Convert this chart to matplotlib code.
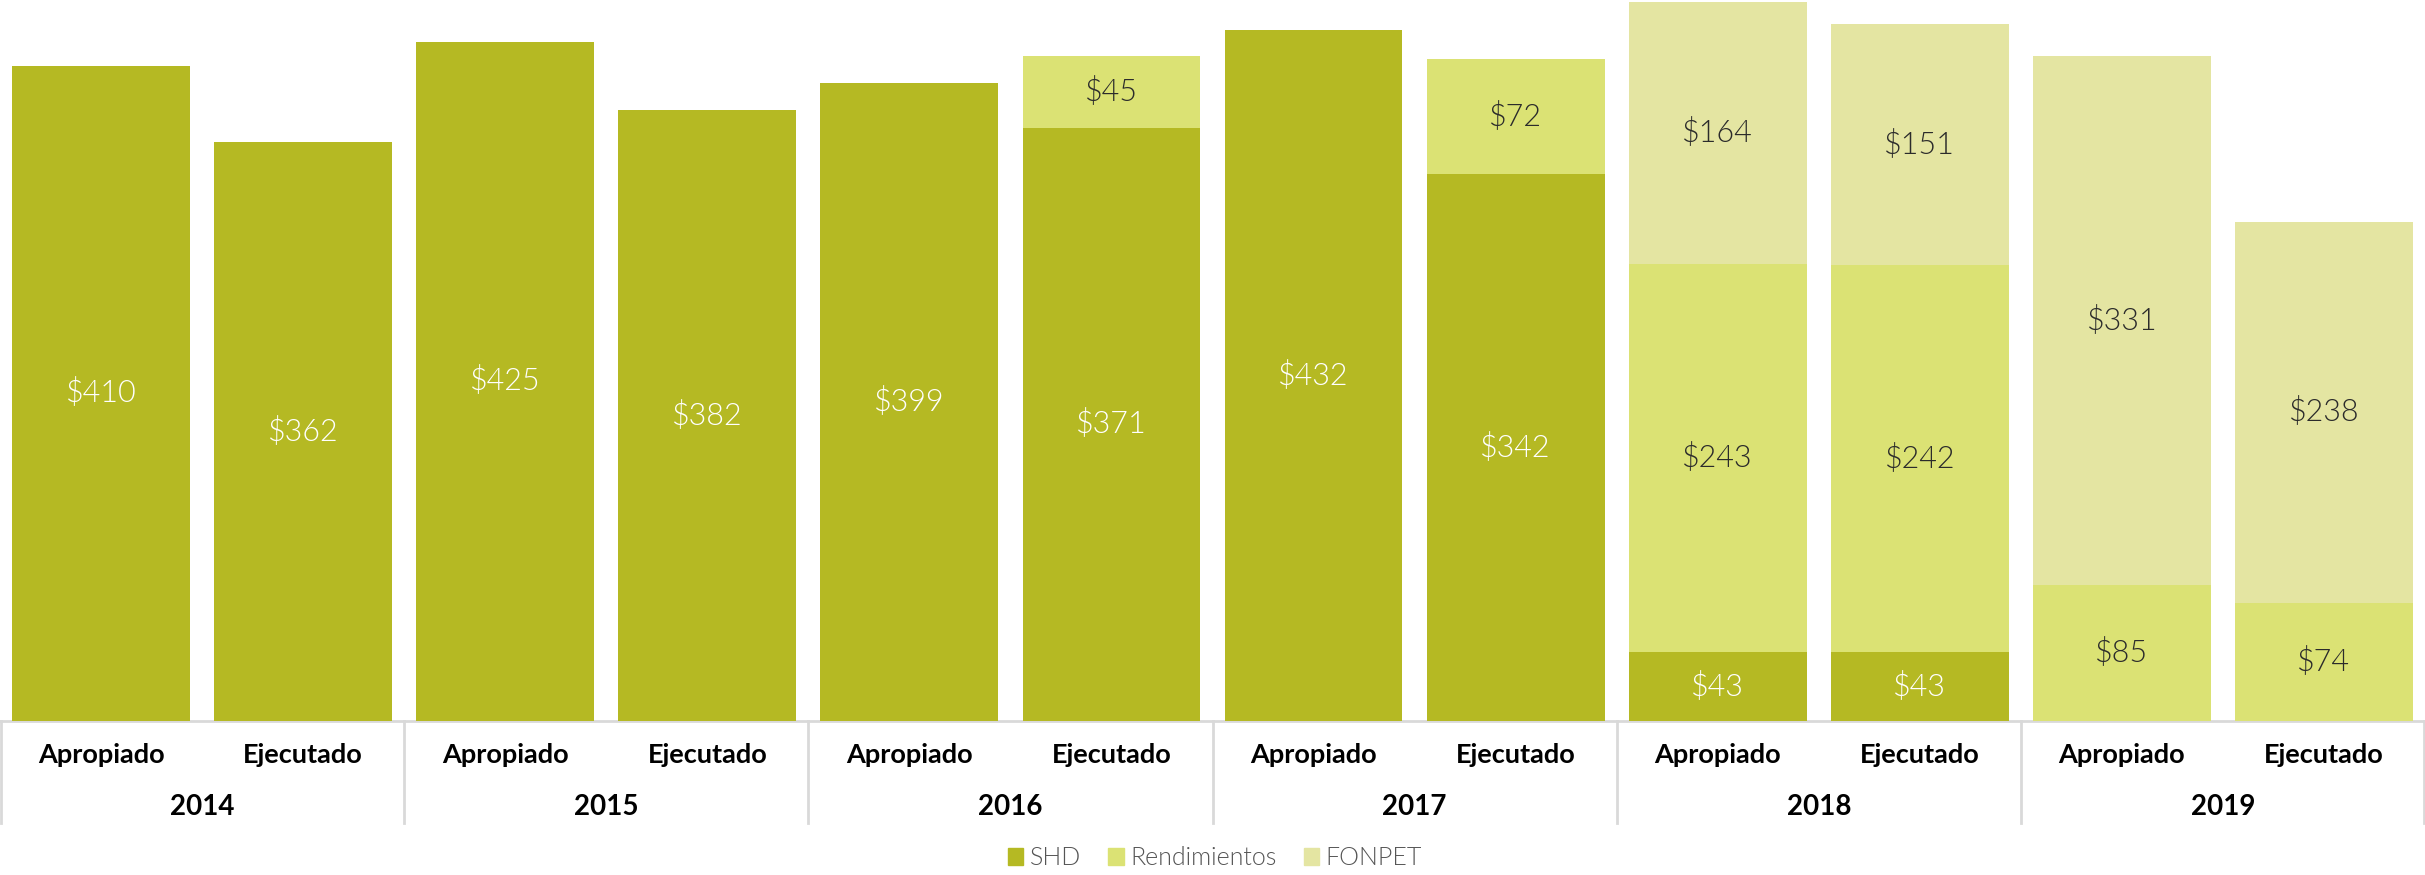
import matplotlib.pyplot as plt
from matplotlib.patches import Patch
import matplotlib.transforms as mtransforms

years = ['2014', '2015', '2016', '2017', '2018', '2019']
kinds = ['Apropiado', 'Ejecutado']
# values per bar: 2014 Apropiado, 2014 Ejecutado, 2015 Apropiado, ...
shd = [410, 362, 425, 382, 399, 371, 432, 342, 43, 43, 0, 0]
rendimientos = [0, 0, 0, 0, 0, 45, 0, 72, 243, 242, 85, 74]
fonpet = [0, 0, 0, 0, 0, 0, 0, 0, 164, 151, 331, 238]

c_shd = '#b5b923'
c_ren = '#dbe274'
c_fon = '#e4e5a2'

plt.rcParams['font.family'] = ['Lato', 'DejaVu Sans']

fig = plt.figure(figsize=(24.25, 8.75), dpi=100)
ax = fig.add_axes([0, 154 / 875, 1, 721 / 875])

x = list(range(len(shd)))
w = 0.88
bottom2 = [a + b for a, b in zip(shd, rendimientos)]
ax.bar(x, shd, width=w, color=c_shd, zorder=2)
ax.bar(x, rendimientos, width=w, bottom=shd, color=c_ren, zorder=2)
ax.bar(x, fonpet, width=w, bottom=bottom2, color=c_fon, zorder=2)

# value labels in the middle of each segment
for i in x:
    segs = [(shd[i], 0, 'white'), (rendimientos[i], shd[i], '#2b2b2b'),
            (fonpet[i], bottom2[i], '#2b2b2b')]
    for val, base, col in segs:
        if val > 0:
            ax.text(i, base + val / 2, '$' + str(val), ha='center', va='center',
                    fontsize=22, color=col, fontweight=300, zorder=3)

ax.set_xlim(-0.5, 11.5)
ax.set_ylim(0, 451)
ax.axis('off')

# baseline and category axis
ax.axhline(0, color='#d9d9d9', linewidth=2, zorder=1, clip_on=False)
trans = mtransforms.blended_transform_factory(ax.transData, ax.transAxes)
for k in range(len(years) + 1):
    xs = -0.5 + 2 * k
    if k == len(years):
        xs -= 0.004
    if k == 0:
        xs += 0.004
    ax.plot([xs, xs], [0, -102 / 721], color='#d9d9d9', linewidth=2,
            transform=trans, clip_on=False)

for i in x:
    ax.text(i, -34 / 721, kinds[i % 2], ha='center', va='center', fontsize=19.5,
            fontweight='bold', color='black', transform=trans)
for j, yr in enumerate(years):
    ax.text(2 * j + 0.5, -86 / 721, yr, ha='center', va='center', fontsize=20,
            fontweight='bold', color='black', transform=trans)

handles = [Patch(color=c_shd, label='SHD'),
           Patch(color=c_ren, label='Rendimientos'),
           Patch(color=c_fon, label='FONPET')]
leg = fig.legend(handles=handles, loc='center', bbox_to_anchor=(0.501, 0.019),
                 ncol=3, frameon=False, fontsize=18, handlelength=0.62,
                 handleheight=0.62, handletextpad=0.25, columnspacing=1.1)
for t in leg.get_texts():
    t.set_color('#555555')
    t.set_fontweight(300)

fig.savefig('out.png', dpi=100)
